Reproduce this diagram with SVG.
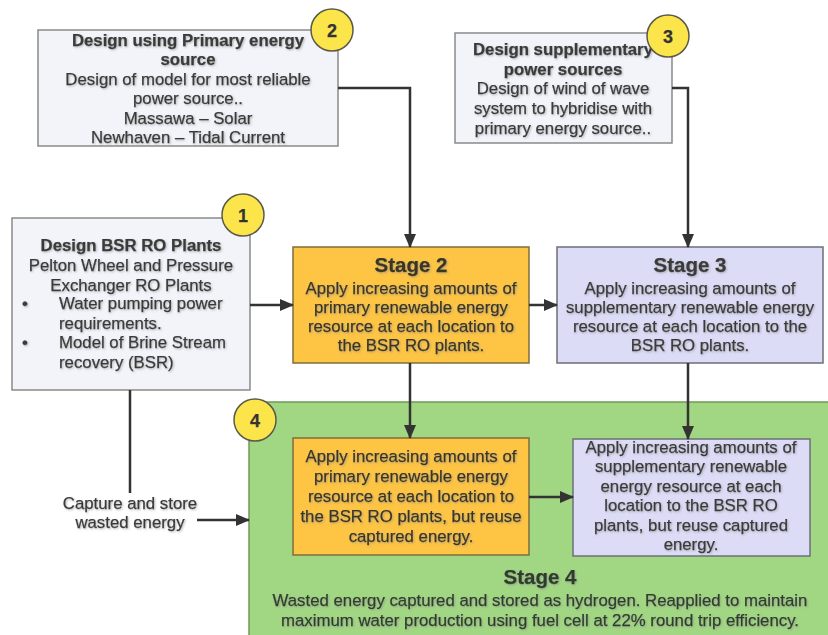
<svg xmlns="http://www.w3.org/2000/svg" width="828" height="635" viewBox="0 0 828 635">
<defs>
<marker id="ah" markerWidth="14" markerHeight="12" refX="13" refY="6" orient="auto" markerUnits="userSpaceOnUse">
<path d="M0,0 L14,6 L0,12 Z" fill="#333"/>
</marker>
<filter id="sh" x="-5%" y="-20%" width="110%" height="140%">
<feGaussianBlur in="SourceAlpha" stdDeviation="0.8" result="b"/>
<feOffset dx="1" dy="1" result="o"/>
<feFlood flood-color="#888" flood-opacity="0.6"/>
<feComposite in2="o" operator="in" result="s"/>
<feMerge><feMergeNode in="s"/><feMergeNode in="SourceGraphic"/></feMerge>
</filter>
</defs>
<style>
text{font-family:"Liberation Sans",Arial,sans-serif;font-size:16.8px;fill:#3a3a3a;text-anchor:middle;stroke:#3a3a3a;stroke-width:0.25}
.b{font-weight:bold}
.t{font-weight:bold;font-size:20.5px}
.l{text-anchor:start}
.o text{fill:#3a3520;stroke:#3a3520}
.g text{fill:#2f3d2c;stroke:#2f3d2c}
.box{fill:#f3f4fa;stroke:#8a8a8a;stroke-width:1.5}
.or{fill:#fec444;stroke:#7d6f3c;stroke-width:1.5}
.lv{fill:#dcdcf7;stroke:#6e6e78;stroke-width:1.5}
.cir{fill:#fce54a;stroke:#5a5a4a;stroke-width:1.5}
.num{font-weight:bold;font-size:18px;fill:#333}
.c{fill:none;stroke:#333;stroke-width:2.5}
</style>
<g id="stage4">
<rect x="249" y="402" width="590" height="245" fill="#a1d783" stroke="#6e9a58" stroke-width="1.5"/>
<g class="g" filter="url(#sh)">
<text x="540" y="584" class="t">Stage 4</text>
<text x="540" y="606">Wasted energy captured and stored as hydrogen. Reapplied to maintain</text>
<text x="540" y="626">maximum water production using fuel cell at 22% round trip efficiency.</text>
</g>
</g>
<g id="box2">
<rect x="38" y="30" width="300" height="116" class="box"/>
<g filter="url(#sh)">
<text x="188" y="46" class="b">Design using Primary energy</text>
<text x="188" y="65" class="b">source</text>
<text x="188" y="85">Design of model for most reliable</text>
<text x="188" y="104">power source..</text>
<text x="188" y="124">Massawa – Solar</text>
<text x="188" y="143">Newhaven – Tidal Current</text>
</g>
</g>
<g id="box3">
<rect x="455" y="33" width="217" height="110" class="box"/>
<g filter="url(#sh)">
<text x="563" y="55" class="b">Design supplementary</text>
<text x="563" y="75" class="b">power sources</text>
<text x="563" y="94">Design of wind of wave</text>
<text x="563" y="114">system to hybridise with</text>
<text x="563" y="134">primary energy source..</text>
</g>
</g>
<g id="box1">
<rect x="12" y="218" width="238" height="172" class="box"/>
<g filter="url(#sh)">
<text x="131" y="251" class="b">Design BSR RO Plants</text>
<text x="131" y="271">Pelton Wheel and Pressure</text>
<text x="131" y="291">Exchanger RO Plants</text>
<text x="22" y="309" class="l">•</text>
<text x="59" y="309" class="l">Water pumping power</text>
<text x="59" y="329" class="l">requirements.</text>
<text x="22" y="348" class="l">•</text>
<text x="59" y="348" class="l">Model of Brine Stream</text>
<text x="59" y="368" class="l">recovery (BSR)</text>
</g>
</g>
<g id="stage2" class="o">
<rect x="293" y="247" width="236" height="116" class="or"/>
<g filter="url(#sh)">
<text x="411" y="272" class="t">Stage 2</text>
<text x="411" y="294">Apply increasing amounts of</text>
<text x="411" y="313">primary renewable energy</text>
<text x="411" y="332">resource at each location to</text>
<text x="411" y="351">the BSR RO plants.</text>
</g>
</g>
<g id="stage3">
<rect x="557" y="247" width="266" height="116" class="lv"/>
<g filter="url(#sh)">
<text x="690" y="272" class="t">Stage 3</text>
<text x="690" y="294">Apply increasing amounts of</text>
<text x="690" y="313">supplementary renewable energy</text>
<text x="690" y="332">resource at each location to the</text>
<text x="690" y="351">BSR RO plants.</text>
</g>
</g>
<g id="stage4a" class="o">
<rect x="293" y="438" width="236" height="117" class="or"/>
<g filter="url(#sh)">
<text x="411" y="462">Apply increasing amounts of</text>
<text x="411" y="482">primary renewable energy</text>
<text x="411" y="502">resource at each location to</text>
<text x="411" y="522">the BSR RO plants, but reuse</text>
<text x="411" y="542">captured energy.</text>
</g>
</g>
<g id="stage4b">
<rect x="573" y="439" width="237" height="117" class="lv"/>
<g filter="url(#sh)">
<text x="691" y="453">Apply increasing amounts of</text>
<text x="691" y="472">supplementary renewable</text>
<text x="691" y="492">energy resource at each</text>
<text x="691" y="511">location to the BSR RO</text>
<text x="691" y="531">plants, but reuse captured</text>
<text x="691" y="550">energy.</text>
</g>
</g>
<g id="capture-label" filter="url(#sh)">
<text x="130" y="509">Capture and store</text>
<text x="130" y="528">wasted energy</text>
</g>
<g id="connectors">
<path class="c" d="M338,88 H410 V247" marker-end="url(#ah)"/>
<path class="c" d="M672,88 H688 V247" marker-end="url(#ah)"/>
<path class="c" d="M250,305 H293" marker-end="url(#ah)"/>
<path class="c" d="M529,305 H557" marker-end="url(#ah)"/>
<path class="c" d="M410,363 V438" marker-end="url(#ah)"/>
<path class="c" d="M688,363 V439" marker-end="url(#ah)"/>
<path class="c" d="M529,497 H573" marker-end="url(#ah)"/>
<path class="c" d="M130,390 V493"/>
<path class="c" d="M197,520 H249" marker-end="url(#ah)"/>
</g>
<g id="badge1"><circle cx="243" cy="215" r="21" class="cir"/><text x="243" y="222" class="num">1</text></g>
<g id="badge2"><circle cx="332" cy="30" r="21" class="cir"/><text x="332" y="37" class="num">2</text></g>
<g id="badge3"><circle cx="668" cy="36" r="21" class="cir"/><text x="668" y="43" class="num">3</text></g>
<g id="badge4"><circle cx="255" cy="420" r="21" class="cir"/><text x="255" y="427" class="num">4</text></g>
</svg>
